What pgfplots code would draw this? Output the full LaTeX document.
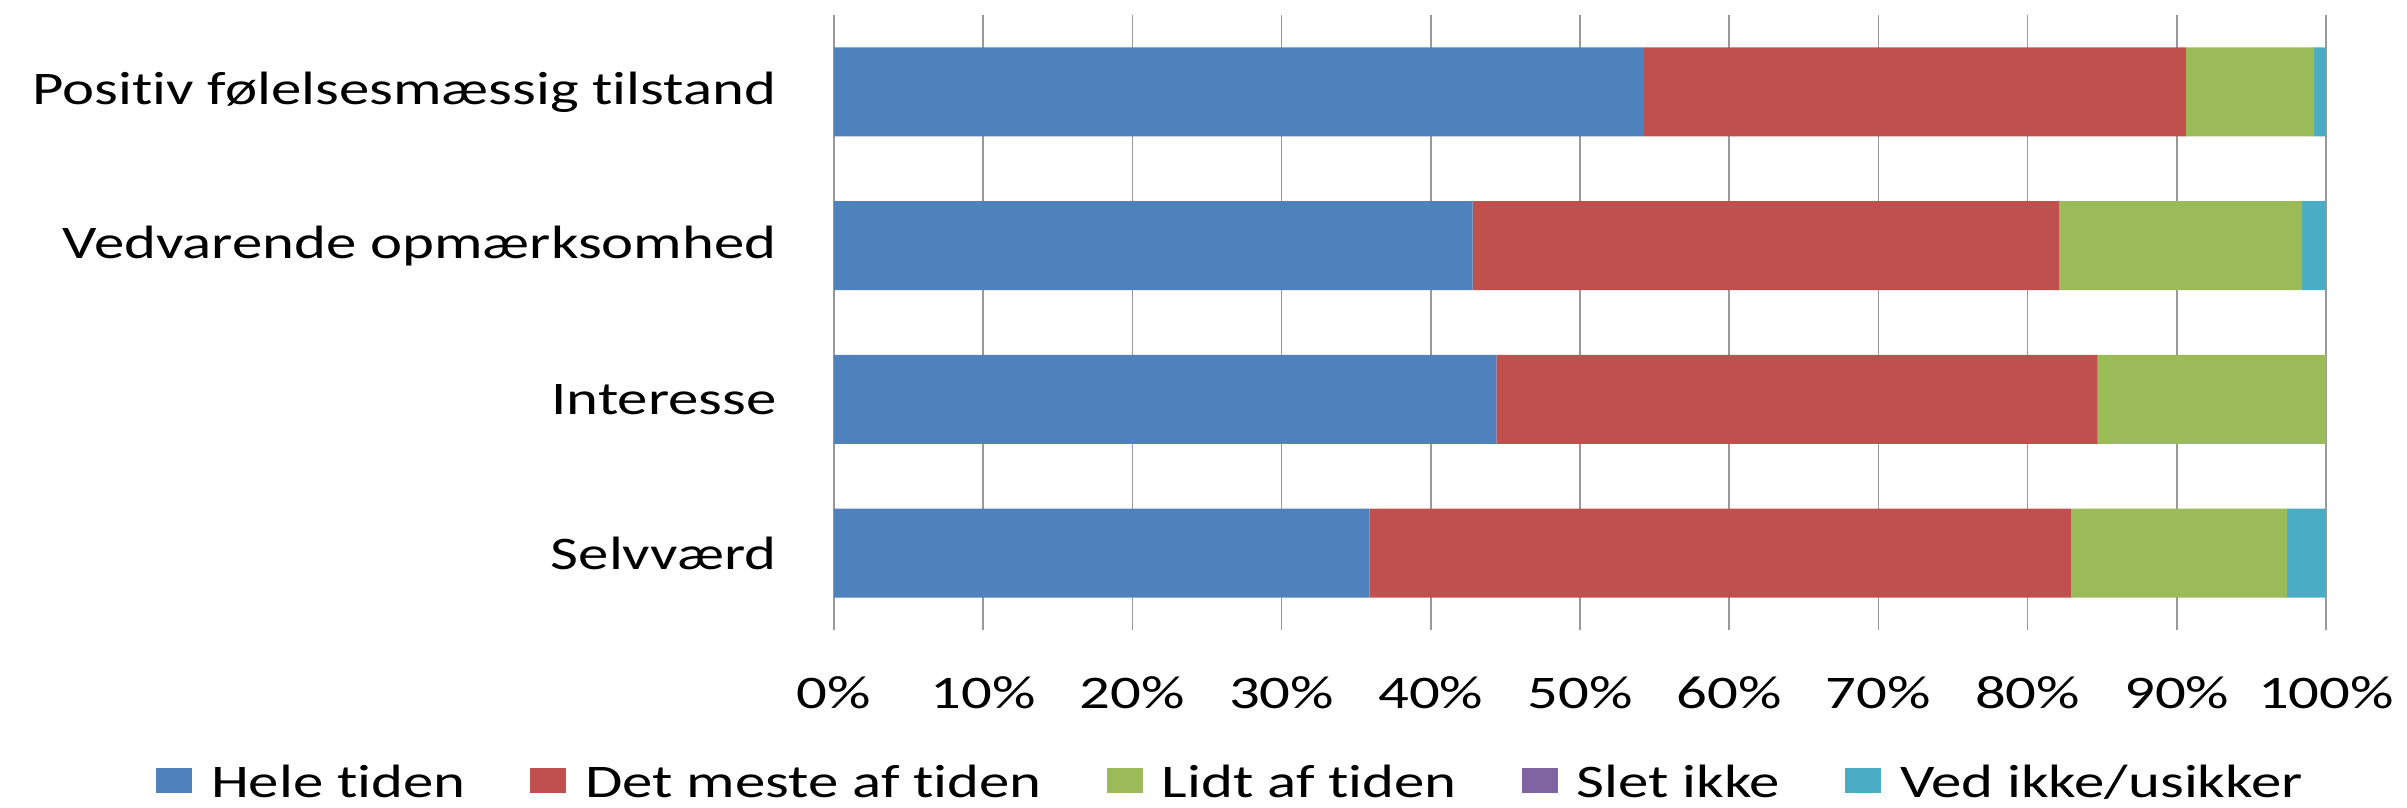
\documentclass[border=0pt]{standalone}
\usepackage{pgfplots}
\pgfplotsset{compat=1.18}
\usepackage{fontspec}
\setmainfont{Carlito}[FakeStretch=1.3, Ligatures=NoCommon]

\definecolor{cblue}{HTML}{4F81BD}
\definecolor{cred}{HTML}{C0504D}
\definecolor{cgreen}{HTML}{9BBB59}
\definecolor{cpurple}{HTML}{8064A2}
\definecolor{cteal}{HTML}{4BACC6}

% y = 0 Selvvaerd, 1 Interesse, 2 Vedvarende, 3 Positiv
\pgfplotstableread{
y  hele  meste  lidt  slet  vedikke
0  35.9  47.0   14.5  0     2.6
1  44.4  40.3   15.3  0     0
2  42.8  39.3   16.3  0     1.6
3  54.3  36.3   8.6   0     0.8
}\datatable

\begin{document}
\begin{tikzpicture}
\begin{axis}[
    xbar stacked,
    width=149.2mm, height=61.5mm,
    scale only axis,
    xmin=0, xmax=100,
    ymin=-0.5, ymax=3.5,
    bar width=8.9mm,
    xtick={0,10,...,100},
    xticklabels={0\%,10\%,20\%,30\%,40\%,50\%,60\%,70\%,80\%,90\%,100\%},
    ytick={0,1,2,3},
    yticklabels={Selvværd,Interesse,Vedvarende opmærksomhed,Positiv følelsesmæssig tilstand},
    major tick length=0pt,
    axis line style={draw=none},
    xmajorgrids,
    grid style={draw=black!40, line width=0.5pt},
    tick label style={font=\fontsize{13.3}{16}\selectfont},
    yticklabel style={anchor=east, xshift=-4.5mm},
    xticklabel style={anchor=base, yshift=-7.8mm},
    legend columns=5,
    legend style={
        at={(0.265,-0.273)}, anchor=south,
        draw=none, fill=none, inner sep=0pt,
        font=\fontsize{13.3}{16}\selectfont,
        nodes={inner sep=0pt, text depth=0pt},
        /tikz/every odd column/.append style={column sep=1.9mm},
        /tikz/every even column/.append style={column sep=6.5mm},
    },
    legend image code/.code={
        \draw[#1, draw=none] (0mm,-1.25mm) rectangle (3.6mm,1.25mm);
    },
]
\addplot[fill=cblue, draw=none] table[x=hele, y=y] {\datatable};
\addplot[fill=cred, draw=none] table[x=meste, y=y] {\datatable};
\addplot[fill=cgreen, draw=none] table[x=lidt, y=y] {\datatable};
\addplot[fill=cpurple, draw=none] table[x=slet, y=y] {\datatable};
\addplot[fill=cteal, draw=none] table[x=vedikke, y=y] {\datatable};
\legend{Hele tiden, Det meste af tiden, Lidt af tiden, Slet ikke, Ved ikke/usikker}
\end{axis}
\pgfresetboundingbox
\path[use as bounding box] (-83.4mm,-17.7mm) rectangle (157.3mm,63.0mm);
\end{tikzpicture}
\end{document}
